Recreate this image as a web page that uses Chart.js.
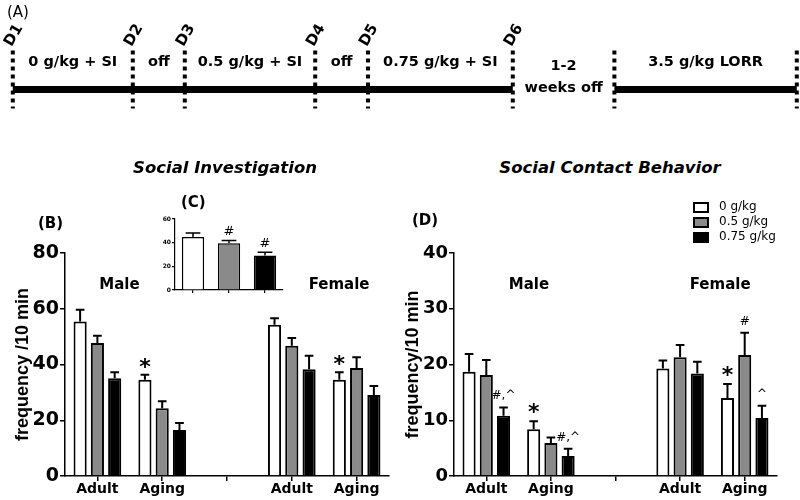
<!DOCTYPE html>
<html>
<head>
<meta charset="utf-8">
<script src="https://cdn.jsdelivr.net/npm/chart.js@4.4.1/dist/chart.umd.min.js"></script>
<style>
  html, body { margin: 0; padding: 0; background: #fff; }
  #page { position: relative; width: 800px; height: 500px; overflow: hidden; color: #000; font-family: 'DejaVu Sans', sans-serif; }
  .box { position: absolute; }
  .txt { position: absolute; white-space: nowrap; line-height: 1; }
  .title { font-weight: bold; font-style: italic; font-size: 16.5px; transform: translateX(-50%); }
  .panel { font-weight: bold; font-size: 15px; }
</style>
</head>
<body>
<div id="page">
  <div class="box" style="left:0;top:0;width:800px;height:110px"><canvas id="timeline"></canvas></div>
  <div class="box" style="left:0;top:180px;width:400px;height:320px"><canvas id="social"></canvas></div>
  <div class="box" style="left:150px;top:190px;width:150px;height:110px"><canvas id="overall"></canvas></div>
  <div class="box" style="left:400px;top:180px;width:400px;height:320px"><canvas id="contact"></canvas></div>

  <div class="txt" style="left:7px;top:5px;font-size:15px">(A)</div>
  <div class="txt title" style="left:225px;top:160px">Social Investigation</div>
  <div class="txt title" style="left:610px;top:160px">Social Contact Behavior</div>
  <div class="txt panel" style="left:38px;top:216px">(B)</div>
  <div class="txt panel" style="left:181px;top:195px">(C)</div>
  <div class="txt panel" style="left:412px;top:213px">(D)</div>
</div>
<script>
Chart.defaults.font.family = "'DejaVu Sans', sans-serif";
Chart.defaults.color = '#000';
Chart.defaults.animation = false;

// timeline (A)
const timelineMarks = ['D1', 'D2', 'D3', 'D4', 'D5', 'D6', '', ''];
const timelineAt = [1.6, 16.6, 23.1, 39.4, 46, 64.1, 76.8, 99.6];
const timelineSteps = ['0 g/kg + SI', 'off', '0.5 g/kg + SI', 'off', '0.75 g/kg + SI', '1-2|weeks off', '3.5 g/kg LORR'];

// shared
const ageGroups = ['Adult', 'Aging', '', 'Adult', 'Aging'];
const doseLabels = ['0 g/kg', '0.5 g/kg', '0.75 g/kg'];
const doseColors = ['#ffffff', '#8a8a8a', '#000000'];

// (B) social investigation
const siTicks = [0, 20, 40, 60, 80];
const siZero = [55.4, 34.5, null, 54.3, 34.5];
const siZeroErr = [4.2, 1.8, null, 2.3, 2.7];
const siHalf = [47.7, 24.3, null, 46.7, 38.7];
const siHalfErr = [2.6, 2.5, null, 2.8, 3.9];
const siHigh = [35.1, 16.5, null, 38.3, 29.1];
const siHighErr = [2.1, 2.5, null, 4.8, 3.2];
const siZeroMarks = ['', '*', '', '', '*'];

// (C) social investigation, all groups
const allTicks = [0, 20, 40, 60];
const allMeans = [44.7, 39.6, 29.2];
const allErr = [3.4, 2.3, 2.8];
const allMarks = ['', '#', '#'];

// (D) social contact
const scTicks = [0, 10, 20, 30, 40];
const scZero = [18.7, 8.4, null, 19.3, 14.0];
const scZeroErr = [3.2, 1.4, null, 1.4, 2.5];
const scHalf = [18.1, 5.9, null, 21.3, 21.7];
const scHalfErr = [2.7, 1.0, null, 2.2, 4.0];
const scHigh = [10.8, 3.6, null, 18.4, 10.4];
const scHighErr = [1.5, 1.3, null, 2.1, 2.2];
const scZeroMarks = ['', '*', '', '', '*'];
const scHalfMarks = ['', '', '', '', '#'];
const scHighMarks = ['#,^', '#,^', '', '', '^'];

// thick line, dotted day marks and step texts
const timelinePlugin = {
  id: 'timelinePlugin',
  afterDraw(chart) {
    const { ctx } = chart;
    const x = chart.scales.x;
    const lineY = chart.scales.y.getPixelForValue(0);
    ctx.save();
    ctx.strokeStyle = '#000';
    ctx.fillStyle = '#000';
    ctx.lineWidth = 4;
    ctx.setLineDash([4, 4]);
    timelineAt.forEach(v => {
      const px = x.getPixelForValue(v);
      ctx.beginPath();
      ctx.moveTo(px, lineY - 39);
      ctx.lineTo(px, lineY + 19);
      ctx.stroke();
    });
    ctx.setLineDash([]);
    ctx.textAlign = 'center';
    ctx.textBaseline = 'middle';
    ctx.font = "bold 15px 'DejaVu Sans'";
    timelineMarks.forEach((m, i) => {
      if (!m) return;
      ctx.save();
      ctx.translate(x.getPixelForValue(timelineAt[i]) + 1, lineY - 54);
      ctx.rotate(-Math.PI / 3);
      ctx.fillText(m, 0, 0);
      ctx.restore();
    });
    ctx.font = "bold 14.5px 'DejaVu Sans'";
    timelineSteps.forEach((s, i) => {
      const mid = (x.getPixelForValue(timelineAt[i]) + x.getPixelForValue(timelineAt[i + 1])) / 2;
      const parts = s.split('|');
      if (parts.length > 1) {
        ctx.fillText(parts[0], mid, lineY - 23);
        ctx.fillText(parts[1], mid, lineY - 1);
      } else {
        ctx.fillText(s, mid, lineY - 27);
      }
    });
    ctx.restore();
  }
};

new Chart(document.getElementById('timeline'), {
  type: 'line',
  data: {
    datasets: [
      { data: [{ x: timelineAt[0], y: 0 }, { x: timelineAt[5], y: 0 }] },
      { data: [{ x: timelineAt[6], y: 0 }, { x: timelineAt[7], y: 0 }] }
    ].map(d => ({ ...d, borderColor: '#000', borderWidth: 7, pointRadius: 0 }))
  },
  options: {
    responsive: true,
    maintainAspectRatio: false,
    layout: { padding: { top: 69 } },
    scales: {
      x: { type: 'linear', min: 0, max: 100, display: false },
      y: { min: -1, max: 1, display: false }
    },
    plugins: { legend: { display: false }, tooltip: { enabled: false } }
  },
  plugins: [timelinePlugin]
});

// error bars, significance marks, Male/Female texts, legend
const barExtras = {
  id: 'barExtras',
  afterDatasetsDraw(chart, args, opts) {
    const { ctx, chartArea } = chart;
    const x = chart.scales.x;
    const y = chart.scales.y;
    ctx.save();
    ctx.strokeStyle = '#000';
    ctx.fillStyle = '#000';
    ctx.textAlign = 'center';
    ctx.textBaseline = 'alphabetic';
    chart.data.datasets.forEach((ds, di) => {
      chart.getDatasetMeta(di).data.forEach((bar, i) => {
        const v = ds.data[i];
        if (v == null) return;
        const top = y.getPixelForValue(v + ds.errors[i]);
        const half = bar.width * 0.33;
        ctx.lineWidth = opts.errWidth;
        ctx.beginPath();
        ctx.moveTo(bar.x, bar.y);
        ctx.lineTo(bar.x, top);
        ctx.moveTo(bar.x - half, top);
        ctx.lineTo(bar.x + half, top);
        ctx.stroke();
        const m = ds.marks && ds.marks[i];
        if (!m) return;
        if (m === '*') {
          ctx.font = "bold 22px 'DejaVu Sans'";
          ctx.fillText(m, bar.x, top - opts.markGap + 6);
        } else {
          ctx.font = `${opts.markSize}px 'DejaVu Sans'`;
          ctx.fillText(m, bar.x, top - opts.markGap);
        }
      });
    });
    if (opts.groups) {
      ctx.font = "bold 15px 'DejaVu Sans'";
      ctx.textBaseline = 'middle';
      const gy = y.getPixelForValue(y.max * 0.857);
      opts.groups.forEach(g => ctx.fillText(g.text, x.getPixelForValue(g.at), gy));
    }
    if (opts.legend) {
      ctx.font = "12px 'DejaVu Sans'";
      ctx.textAlign = 'left';
      ctx.textBaseline = 'middle';
      ctx.lineWidth = 2;
      chart.data.datasets.forEach((ds, i) => {
        const lx = chartArea.right - 83;
        const ly = chartArea.top - 46 + i * 15;
        ctx.fillStyle = ds.backgroundColor;
        ctx.fillRect(lx, ly - 4, 14, 9);
        ctx.strokeRect(lx, ly - 4, 14, 9);
        ctx.fillStyle = '#000';
        ctx.fillText(ds.label, lx + 25, ly);
      });
    }
    ctx.restore();
  }
};

function barPanel(id, cfg) {
  return new Chart(document.getElementById(id), {
    type: 'bar',
    data: {
      labels: cfg.labels,
      datasets: cfg.sets.map(s => ({
        label: s.label,
        data: s.data,
        errors: s.errors,
        marks: s.marks,
        backgroundColor: s.color,
        borderColor: '#000',
        borderWidth: cfg.border,
        borderSkipped: 'start',
        categoryPercentage: cfg.catPct,
        barPercentage: cfg.barPct
      }))
    },
    options: {
      responsive: true,
      maintainAspectRatio: false,
      layout: { padding: cfg.padding },
      scales: {
        x: {
          ticks: { font: { weight: 'bold', size: 14 }, padding: 0, autoSkip: false, maxRotation: 0, display: cfg.xLabels },
          grid: { offset: false, drawOnChartArea: false, color: '#000', lineWidth: cfg.axisWidth, tickLength: cfg.tick, tickWidth: cfg.axisWidth },
          border: { color: '#000', width: cfg.axisWidth },
          afterFit(s) { s.height = cfg.xHeight; }
        },
        y: {
          min: cfg.ticks[0],
          max: cfg.ticks[cfg.ticks.length - 1],
          afterBuildTicks(s) { s.ticks = cfg.ticks.map(v => ({ value: v })); },
          ticks: { font: { weight: 'bold', size: cfg.tickSize }, padding: cfg.tickPad },
          grid: { drawOnChartArea: false, color: '#000', lineWidth: cfg.axisWidth, tickLength: cfg.tick },
          border: { color: '#000', width: cfg.axisWidth },
          title: cfg.yTitle ? {
            display: true,
            text: cfg.yTitle,
            font: { family: "'Liberation Sans', Arial, sans-serif", weight: 'bold', size: 18 },
            padding: { top: cfg.titlePad, bottom: 0 }
          } : { display: false },
          afterFit(s) { s.width = cfg.yWidth; }
        }
      },
      plugins: {
        legend: { display: false },
        tooltip: { enabled: false },
        barExtras: cfg.extras
      }
    },
    plugins: [barExtras]
  });
}

barPanel('social', {
  labels: ageGroups,
  sets: [
    { label: doseLabels[0], data: siZero, errors: siZeroErr, marks: siZeroMarks, color: doseColors[0] },
    { label: doseLabels[1], data: siHalf, errors: siHalfErr, color: doseColors[1] },
    { label: doseLabels[2], data: siHigh, errors: siHighErr, color: doseColors[2] }
  ],
  ticks: siTicks, tickSize: 19, tickPad: 1, tick: 5, axisWidth: 1.5, border: 2,
  catPct: 0.8, barPct: 0.76, xLabels: true, xHeight: 24, yWidth: 65,
  yTitle: 'frequency /10 min', titlePad: 12,
  padding: { top: 73, right: 11, left: 0, bottom: 0 },
  extras: { errWidth: 2, markGap: 7, markSize: 12, groups: [{ text: 'Male', at: 0.34 }, { text: 'Female', at: 3.73 }] }
});

barPanel('overall', {
  labels: ['', '', ''],
  sets: [
    { label: 'all', data: allMeans, errors: allErr, marks: allMarks, color: doseColors }
  ],
  ticks: allTicks, tickSize: 6, tickPad: 1, tick: 3, axisWidth: 1.2, border: 1.5,
  catPct: 1, barPct: 0.62, xLabels: false, xHeight: 10, yWidth: 25,
  yTitle: '', titlePad: 0,
  padding: { top: 29, right: 17, left: 0, bottom: 0 },
  extras: { errWidth: 1.5, markGap: 5, markSize: 13 }
});

barPanel('contact', {
  labels: ageGroups,
  sets: [
    { label: doseLabels[0], data: scZero, errors: scZeroErr, marks: scZeroMarks, color: doseColors[0] },
    { label: doseLabels[1], data: scHalf, errors: scHalfErr, marks: scHalfMarks, color: doseColors[1] },
    { label: doseLabels[2], data: scHigh, errors: scHighErr, marks: scHighMarks, color: doseColors[2] }
  ],
  ticks: scTicks, tickSize: 18, tickPad: 1, tick: 5, axisWidth: 1.5, border: 2,
  catPct: 0.8, barPct: 0.76, xLabels: true, xHeight: 24, yWidth: 54,
  yTitle: 'frequency/10 min', titlePad: 2,
  padding: { top: 73, right: 23, left: 0, bottom: 0 },
  extras: { errWidth: 2, markGap: 8, markSize: 12, legend: true, groups: [{ text: 'Male', at: 0.66 }, { text: 'Female', at: 3.62 }] }
});
</script>
</body>
</html>
